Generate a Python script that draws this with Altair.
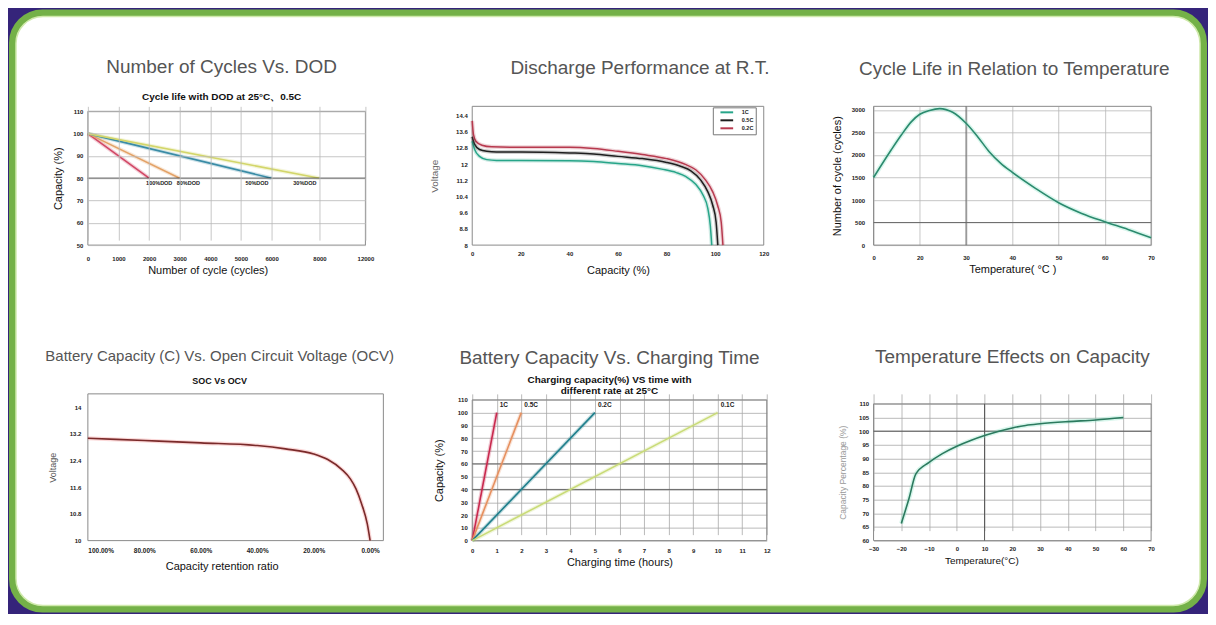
import altair as alt
import pandas as pd

# ---------------- data ----------------
# Panel 1 - Number of Cycles Vs. DOD
dod_labels = ["100%DOD", "80%DOD", "50%DOD", "30%DOD"]
dod_end_cycles = [2000, 3000, 6000, 8000]
dod_start_capacity = [100, 100, 100, 100]
dod_end_capacity = [80, 80, 80, 80]
dod_colors = ["#d24866", "#e3a267", "#3a8ca6", "#d3d66a"]
dod_threshold = [80]
dod_x_ticks = [0, 1000, 2000, 3000, 4000, 5000, 6000, 8000, 12000]
dod_y_ticks = [50, 60, 70, 80, 90, 100, 110]

# Panel 2 - Discharge Performance at R.T.
dis_rates = ["1C", "0.5C", "0.2C"]
dis_colors = ["#27a68a", "#1e1e1e", "#b8394f"]
dis_cap_1c = [0, 1, 3, 6, 10, 20, 40, 50, 60, 70, 78, 84, 88, 92, 95, 97, 98, 98.6]
dis_v_1c = [13.13, 12.72, 12.38, 12.22, 12.18, 12.18, 12.17, 12.13, 12.03, 11.92, 11.75, 11.58, 11.38, 11.0, 10.47, 9.8, 8.97, 8.0]
dis_cap_05c = [0, 1, 3, 6, 10, 20, 40, 50, 60, 70, 80, 86, 90, 94, 97, 99, 100.4, 101.1]
dis_v_05c = [13.35, 12.97, 12.72, 12.63, 12.6, 12.6, 12.55, 12.5, 12.38, 12.27, 12.08, 11.88, 11.67, 11.22, 10.63, 9.97, 9.13, 8.0]
dis_cap_02c = [0, 0.5, 1.5, 4, 8, 20, 40, 50, 60, 70, 80, 88, 92, 96, 99, 101, 102.5, 103.2]
dis_v_02c = [14.13, 13.47, 13.13, 12.93, 12.85, 12.83, 12.83, 12.77, 12.63, 12.47, 12.27, 11.97, 11.72, 11.22, 10.63, 9.97, 9.13, 8.0]
dis_x_ticks = [0, 20, 40, 60, 80, 100, 120]
dis_y_ticks = [8, 8.8, 9.6, 10.4, 11.2, 12, 12.8, 13.6, 14.4]

# Panel 3 - Cycle Life in Relation to Temperature
cyc_temp = [0, 7.6, 12, 16.4, 20, 22.1, 24.3, 27.1, 30, 32.5, 35, 37.5, 40, 45, 50, 55, 60, 65, 70]
cyc_count = [1500, 2111, 2444, 2741, 2904, 2990, 3030, 2948, 2704, 2407, 2074, 1815, 1615, 1259, 941, 704, 519, 348, 163]
cyc_x_ticks = [0, 20, 30, 40, 50, 60, 70]
cyc_y_ticks = [0, 500, 1000, 1500, 2000, 2500, 3000]
cyc_ref_temp = [30]
cyc_ref_count = [500]

# Panel 4 - Battery Capacity (C) Vs. Open Circuit Voltage (OCV)
ocv_soc = [1.0, 0.8, 0.6, 0.4, 0.3, 0.2, 0.15, 0.10, 0.07, 0.05, 0.03, 0.01, 0.0]
ocv_volt = [13.07, 13.0, 12.93, 12.85, 12.75, 12.6, 12.43, 12.13, 11.85, 11.55, 11.1, 10.5, 10.0]
ocv_x_ticks = [1.0, 0.8, 0.6, 0.4, 0.2, 0.0]
ocv_y_ticks = [10, 10.8, 11.6, 12.4, 13.2, 14]

# Panel 5 - Battery Capacity Vs. Charging Time
chg_rates = ["1C", "0.5C", "0.2C", "0.1C"]
chg_full_hours = [1, 2, 5, 10]
chg_start_capacity = [0, 0, 0, 0]
chg_full_capacity = [100, 100, 100, 100]
chg_colors = ["#c9294e", "#e6905f", "#1f7f8c", "#c9db77"]
chg_x_ticks = [0, 1, 2, 3, 4, 5, 6, 7, 8, 9, 10, 11, 12]
chg_y_ticks = [0, 10, 20, 30, 40, 50, 60, 70, 80, 90, 100, 110]
chg_ref_capacity = [40, 60]

# Panel 6 - Temperature Effects on Capacity
tmp_temp = [-20, -17.2, -14.8, -10, -5.2, 0, 5, 10, 15.2, 20, 24.8, 30, 40, 50, 60]
tmp_cap = [66.3, 75.5, 84.3, 88.6, 91.8, 94.5, 96.6, 98.4, 100, 101.2, 102.1, 102.7, 103.5, 104.1, 105.0]
tmp_x_ticks = [-30, -20, -10, 0, 10, 20, 30, 40, 50, 60, 70]
tmp_y_ticks = [60, 65, 70, 75, 80, 85, 90, 95, 100, 105, 110]
tmp_ref_temp = [10]
tmp_ref_cap = [100]

# ---------------- tables ----------------
df_dod = pd.DataFrame({
    "series": dod_labels + dod_labels,
    "cycles": [0, 0, 0, 0] + dod_end_cycles,
    "capacity": dod_start_capacity + dod_end_capacity,
})
df_dod_lab = pd.DataFrame({"label": dod_labels, "cycles": dod_end_cycles, "capacity": dod_end_capacity})

df_dis = pd.concat([
    pd.DataFrame({"rate": "1C", "cap": dis_cap_1c, "volt": dis_v_1c}),
    pd.DataFrame({"rate": "0.5C", "cap": dis_cap_05c, "volt": dis_v_05c}),
    pd.DataFrame({"rate": "0.2C", "cap": dis_cap_02c, "volt": dis_v_02c}),
], ignore_index=True)

df_cyc = pd.DataFrame({"temp": cyc_temp, "count": cyc_count})
df_ocv = pd.DataFrame({"soc": ocv_soc, "volt": ocv_volt})
df_chg = pd.DataFrame({
    "rate": chg_rates + chg_rates,
    "hours": [0, 0, 0, 0] + chg_full_hours,
    "capacity": chg_start_capacity + chg_full_capacity,
})
df_chg_lab = pd.DataFrame({"rate": chg_rates, "hours": chg_full_hours, "capacity": chg_full_capacity})
df_tmp = pd.DataFrame({"temp": tmp_temp, "cap": tmp_cap})

FONT = "Liberation Sans"
ONE = alt.Data(values=[{}])


def ax(values, **kw):
    base = dict(values=values, tickCount=len(values) + 2, labelOverlap=False,
                labelFont=FONT, labelFontSize=6, labelFontWeight="bold", labelColor="#222222",
                titleFont=FONT, titleFontSize=11, titleFontWeight="normal", titleColor="#111111",
                ticks=False, tickSize=0, domain=False, grid=False, gridColor="#b8b8b8",
                gridWidth=0.8, labelFlush=False)
    base.update(kw)
    return alt.Axis(**base)


class Pos:
    """x / y encodings sharing one scale and axis across all layers of a panel"""
    def __init__(self, sx, axx, sy, axy):
        self.sx, self.axx, self.sy, self.axy = sx, axx, sy, axy

    def x(self, f):
        return alt.X(f, scale=self.sx, axis=self.axx)

    def y(self, f):
        return alt.Y(f, scale=self.sy, axis=self.axy)

    def xd(self, v):
        return alt.XDatum(v, scale=self.sx, axis=self.axx)

    def yd(self, v):
        return alt.YDatum(v, scale=self.sy, axis=self.axy)

    def frame(self, x0, x1, y0, y1):
        return alt.Chart(ONE).mark_rect(fill="transparent", stroke="#8a8a8a", strokeWidth=1).encode(
            x=self.xd(x0), x2=alt.X2Datum(x1), y=self.yd(y0), y2=alt.Y2Datum(y1))


def ttl(text, dx, offset, subtitle=None, sub_pad=0, size=19, sub_size=10):
    kw = dict(text=text, frame="group", anchor="middle", dx=dx, offset=offset, font=FONT,
              fontSize=size, fontWeight="normal", color="#555555", zindex=1)
    if subtitle is not None:
        kw.update(subtitle=subtitle, subtitleFont=FONT, subtitleFontSize=sub_size,
                  subtitleFontWeight="bold", subtitleColor="#111111", subtitlePadding=sub_pad,
                  subtitleLineHeight=11)
    return alt.TitleParams(**kw)


# ---------------- Panel 1 ----------------
P1 = Pos(alt.Scale(domain=[0, 6000, 8000, 12000], range=[0, 184, 232, 278], nice=False),
         ax(dod_x_ticks, format="d", title="Number of cycle (cycles)", grid=True,
            labelPadding=10, titlePadding=3, titleX=120, zindex=1),
         alt.Scale(domain=[50, 110], range=[139, 5], nice=False),
         ax(dod_y_ticks, format="d", title="Capacity (%)", grid=True, labelPadding=5,
            titlePadding=9, zindex=1))
p1c = alt.Scale(domain=dod_labels, range=dod_colors)

bg = alt.Chart(ONE).mark_rect(fill="white", stroke="#74b148", strokeWidth=7, cornerRadius=30).encode(
    x=alt.value(-75.5), x2=alt.value(1117.5), y=alt.value(-93.5), y2=alt.value(503.5))
bg_hi = alt.Chart(ONE).mark_rect(fill="transparent", stroke="#cfe9ab", strokeWidth=1.5, cornerRadius=27).encode(
    x=alt.value(-72), x2=alt.value(1114), y=alt.value(-90), y2=alt.value(500))

p1_glow = alt.Chart(df_dod).mark_line(strokeWidth=4, opacity=0.25).encode(
    x=P1.x("cycles:Q"), y=P1.y("capacity:Q"), color=alt.Color("series:N", scale=p1c, legend=None))
p1_line = alt.Chart(df_dod).mark_line(strokeWidth=1.6).encode(
    x=P1.x("cycles:Q"), y=P1.y("capacity:Q"), color=alt.Color("series:N", scale=p1c, legend=None))
p1_ref = alt.Chart(pd.DataFrame({"capacity": dod_threshold})).mark_rule(color="#111111", strokeWidth=1).encode(
    x=P1.xd(0), x2=alt.X2Datum(12000), y=P1.y("capacity:Q"))
p1_lab_l = alt.Chart(df_dod_lab).transform_filter("datum.cycles <= 3000").mark_text(
    align="left", baseline="top", dx=-3, dy=3, font=FONT, fontSize=5.5, fontWeight="bold", color="#222222"
).encode(x=P1.x("cycles:Q"), y=P1.y("capacity:Q"), text="label:N")
p1_lab_r = alt.Chart(df_dod_lab).transform_filter("datum.cycles > 3000").mark_text(
    align="right", baseline="top", dx=-3, dy=3, font=FONT, fontSize=5.5, fontWeight="bold", color="#222222"
).encode(x=P1.x("cycles:Q"), y=P1.y("capacity:Q"), text="label:N")

p1 = alt.layer(bg, bg_hi, P1.frame(0, 12000, 50, 110), p1_glow, p1_line, p1_ref, p1_lab_l, p1_lab_r).properties(
    width=298, height=139,
    title=ttl("Number of Cycles Vs. DOD", -15, -93, subtitle="Cycle life with DOD at 25°C、0.5C", sub_pad=15))

# ---------------- Panel 2 ----------------
P2 = Pos(alt.Scale(domain=[0, 120], range=[0, 292], nice=False),
         ax(dis_x_ticks, format="d", title="Capacity (%)", labelPadding=5, titlePadding=8),
         alt.Scale(domain=[8, 14.85], nice=False),
         ax(dis_y_ticks, format=".3~g", title="Voltage", titleColor="#666666", titleFontSize=10,
            labelPadding=5, titlePadding=16))
p2c = alt.Scale(domain=dis_rates, range=dis_colors)
p2_legend = alt.Legend(title=None, orient="none", legendX=241, legendY=1, direction="vertical",
                       symbolType="M-3.4,0H3.4", symbolSize=14, symbolStrokeWidth=2, symbolOpacity=1,
                       symbolOffset=9, labelOffset=12,
                       labelFont=FONT, labelFontSize=5.5, labelFontWeight="bold", labelColor="#222222",
                       strokeColor="#777777", fillColor="white", padding=2, rowPadding=0,
                       labelLimit=40)
p2_line = alt.Chart(df_dis).mark_line(strokeWidth=1.5, interpolate="monotone").encode(
    x=P2.x("cap:Q"), y=P2.y("volt:Q"),
    color=alt.Color("rate:N", scale=p2c, legend=p2_legend))
p2_glow = alt.Chart(df_dis).mark_line(strokeWidth=4, opacity=0.22, interpolate="monotone").encode(
    x=P2.x("cap:Q"), y=P2.y("volt:Q"),
    color=alt.Color("rate:N", scale=p2c, legend=p2_legend))
p2 = alt.layer(P2.frame(0, 120, 8, 14.85), p2_line, p2_glow).properties(
    width=310, height=139, title=ttl("Discharge Performance at R.T.", 13, 28))

# ---------------- Panel 3 ----------------
P3 = Pos(alt.Scale(domain=[0, 20, 70], range=[0, 46.33, 278], nice=False),
         ax(cyc_x_ticks, format="d", title="Temperature( °C )", grid=True, labelPadding=9, titlePadding=3),
         alt.Scale(domain=[0, 3080], nice=False),
         ax(cyc_y_ticks, format="d", title="Number of cycle (cycles)", grid=True, labelPadding=9,
            titlePadding=9))
p3_glow = alt.Chart(df_cyc).mark_line(strokeWidth=4.5, opacity=0.3, color="#7fe0c0", interpolate="monotone").encode(
    x=P3.x("temp:Q"), y=P3.y("count:Q"))
p3_line = alt.Chart(df_cyc).mark_line(strokeWidth=1.6, color="#2b8a6e", interpolate="monotone").encode(
    x=P3.x("temp:Q"), y=P3.y("count:Q"))
p3_rx = alt.Chart(pd.DataFrame({"temp": cyc_ref_temp})).mark_rule(color="#666666", strokeWidth=1).encode(
    x=P3.x("temp:Q"), y=P3.yd(0), y2=alt.Y2Datum(3080))
p3_ry = alt.Chart(pd.DataFrame({"count": cyc_ref_count})).mark_rule(color="#666666", strokeWidth=1).encode(
    y=P3.y("count:Q"), x=P3.xd(0), x2=alt.X2Datum(70))
p3 = alt.layer(P3.frame(0, 70, 0, 3080), p3_rx, p3_ry, p3_glow, p3_line).properties(
    width=278, height=139, title=ttl("Cycle Life in Relation to Temperature", 2, 21))

# ---------------- Panel 4 ----------------
P4 = Pos(alt.Scale(domain=[-0.047, 1.0], reverse=True, nice=False),
         ax(ocv_x_ticks, format=".2%", title="Capacity retention ratio", labelFontSize=6.5,
            labelPadding=7, titlePadding=6, labelFlush=True, titleX=134),
         alt.Scale(domain=[10, 14.4], nice=False),
         ax(ocv_y_ticks, format=".3~g", title="Voltage", titleColor="#555555", titleFontSize=9,
            labelPadding=7, titlePadding=12))
p4_glow = alt.Chart(df_ocv).mark_line(strokeWidth=4, opacity=0.35, color="#f39090", interpolate="monotone").encode(
    x=P4.x("soc:Q"), y=P4.y("volt:Q"), order=alt.Order("soc:Q", sort="descending"))
p4_line = alt.Chart(df_ocv).mark_line(strokeWidth=1.6, color="#7a2a2a", interpolate="monotone").encode(
    x=P4.x("soc:Q"), y=P4.y("volt:Q"), order=alt.Order("soc:Q", sort="descending"))
p4 = alt.layer(P4.frame(-0.047, 1.0, 10, 14.4), p4_glow, p4_line).properties(
    width=296, height=147,
    title=ttl("Battery Capacity (C) Vs. Open Circuit Voltage (OCV)", -16, 7, subtitle="SOC Vs OCV",
              sub_pad=13, size=15, sub_size=9))

# ---------------- Panel 5 ----------------
P5 = Pos(alt.Scale(domain=[0, 12], range=[0, 295], nice=False),
         ax(chg_x_ticks, format="d", title="Charging time (hours)", grid=True, gridColor="#a8a8a8",
            labelPadding=7, titlePadding=3),
         alt.Scale(domain=[0, 110], range=[147, 6], nice=False),
         ax(chg_y_ticks, format="d", title="Capacity (%)", grid=True, gridColor="#a8a8a8",
            labelPadding=5, titlePadding=13))
p5c = alt.Scale(domain=chg_rates, range=chg_colors)
p5_glow = alt.Chart(df_chg).mark_line(strokeWidth=4, opacity=0.25).encode(
    x=P5.x("hours:Q"), y=P5.y("capacity:Q"), color=alt.Color("rate:N", scale=p5c, legend=None))
p5_line = alt.Chart(df_chg).mark_line(strokeWidth=1.6).encode(
    x=P5.x("hours:Q"), y=P5.y("capacity:Q"), color=alt.Color("rate:N", scale=p5c, legend=None))
p5_ref = alt.Chart(pd.DataFrame({"capacity": chg_ref_capacity})).mark_rule(color="#666666", strokeWidth=1).encode(
    x=P5.xd(0), x2=alt.X2Datum(12), y=P5.y("capacity:Q"))
p5_lab = alt.Chart(df_chg_lab).mark_text(align="left", baseline="middle", dx=3, dy=-8, font=FONT,
                                          fontSize=6.5, fontWeight="bold", color="#222222").encode(
    x=P5.x("hours:Q"), y=P5.y("capacity:Q"), text="rate:N")
p5 = alt.layer(P5.frame(0, 12, 0, 110), p5_ref, p5_glow, p5_line, p5_lab).properties(
    width=315, height=147,
    title=ttl("Battery Capacity Vs. Charging Time", -20, -2,
              subtitle=["Charging capacity(%) VS time with", "different rate at 25°C"], sub_pad=7))

# ---------------- Panel 6 ----------------
P6 = Pos(alt.Scale(domain=[-30, 70], nice=False),
         ax(tmp_x_ticks, format="d", title="Temperature(°C)", titleFontSize=10, grid=True,
            gridColor="#a8a8a8", labelPadding=5, titlePadding=4, titleX=108),
         alt.Scale(domain=[60, 110], range=[147, 10], nice=False),
         ax(tmp_y_ticks, format="d", title="Capacity Percentage (%)", titleColor="#999999",
            titleFontSize=8.5, grid=True, gridColor="#a8a8a8", labelPadding=5, titlePadding=11))
p6_glow = alt.Chart(df_tmp).mark_line(strokeWidth=4.5, opacity=0.3, color="#7fe0c0", interpolate="monotone").encode(
    x=P6.x("temp:Q"), y=P6.y("cap:Q"))
p6_line = alt.Chart(df_tmp).mark_line(strokeWidth=1.6, color="#2b7a5e", interpolate="monotone").encode(
    x=P6.x("temp:Q"), y=P6.y("cap:Q"))
p6_rx = alt.Chart(pd.DataFrame({"temp": tmp_ref_temp})).mark_rule(color="#555555", strokeWidth=1).encode(
    x=P6.x("temp:Q"), y=P6.yd(60), y2=alt.Y2Datum(110))
p6_ry = alt.Chart(pd.DataFrame({"cap": tmp_ref_cap})).mark_rule(color="#555555", strokeWidth=1).encode(
    y=P6.y("cap:Q"), x=P6.xd(-30), x2=alt.X2Datum(70))
p6 = alt.layer(P6.frame(-30, 70, 60, 110), p6_rx, p6_ry, p6_glow, p6_line).properties(
    width=278, height=147, title=ttl("Temperature Effects on Capacity", 0, 27))

chart = alt.concat(
    p1, p2, p3, p4, p5, p6,
    columns=3,
    spacing={"row": 141, "column": 87},
    bounds="flush",
    align={"row": "all", "column": "none"},
).resolve_scale(color="independent").resolve_legend(color="independent").properties(
    padding=0, background="#35247a").configure_view(stroke="transparent")

chart.save("out.html", embed_options={"renderer": "svg", "actions": False})
